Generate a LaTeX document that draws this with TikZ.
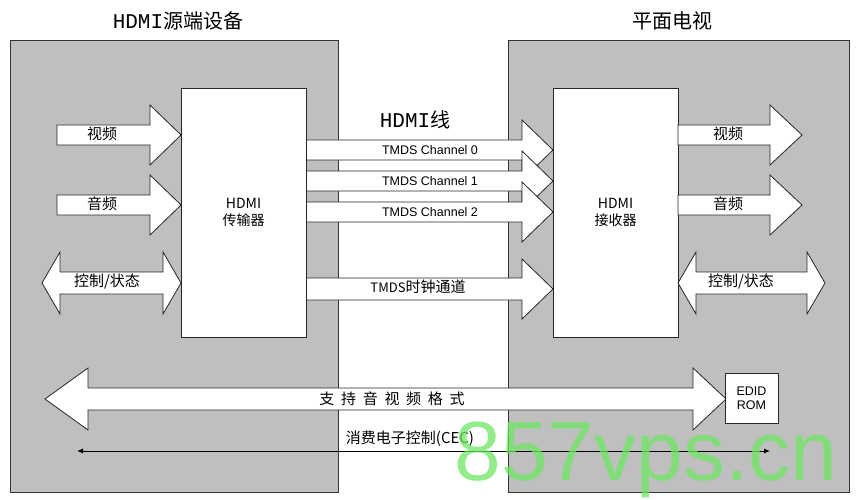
\documentclass[tikz,border=0pt]{standalone}
\usepackage{fontspec}
\usetikzlibrary{arrows.meta}
\setmainfont{Liberation Sans}
\newfontfamily\cjk{Noto Sans CJK SC}
\newfontfamily\titlef{Liberation Mono}
% right arrow: x1 x2(head start) x3(tip) y shafthalf headhalf
\newcommand\fatRight[6]{\draw[arr] (#1,#4-#5) -- (#2,#4-#5) -- (#2,#4-#6) -- (#3,#4) -- (#2,#4+#6) -- (#2,#4+#5) -- (#1,#4+#5) -- cycle;}
% double arrow: xl(tip) xl2 xr2 xr(tip) y shafthalf headhalf
\newcommand\fatBoth[7]{\draw[arr] (#1,#5) -- (#2,#5-#7) -- (#2,#5-#6) -- (#3,#5-#6) -- (#3,#5-#7) -- (#4,#5) -- (#3,#5+#7) -- (#3,#5+#6) -- (#2,#5+#6) -- (#2,#5+#7) -- cycle;}
\definecolor{wmgreen}{RGB}{110,230,100}
\tikzset{
  arr/.style={draw=black!85, fill=white, line width=0.8pt, line join=miter},
  panel/.style={draw=black!80, fill=black!25, line width=0.8pt},
  unit/.style={draw=black!85, fill=white, line width=0.8pt},
  lbl/.style={font=\cjk\fontsize{15}{16}\selectfont},
  tl/.style={font=\fontsize{12.5}{13}\selectfont},
  ttl/.style={font=\cjk\fontsize{20}{22}\selectfont}
}
\begin{document}
\begin{tikzpicture}[x=1pt,y=-1pt]
\useasboundingbox[fill=white] (0,0) rectangle (859,500);
\draw[panel] (10,40) rectangle (338,492);
\draw[panel] (508,40) rectangle (849,492);
\node[ttl] (t1) at (178,21) {{\titlef\fontsize{21}{22}\selectfont HDMI}源端设备};
\node[ttl] (t2) at (672,21) {平面电视};
\node[ttl] (t3) at (415,120) {{\titlef\fontsize{21}{22}\selectfont HDMI}线};
% left inputs
\fatRight{57}{150}{181}{135}{10}{30}
\node[lbl] (v1) at (102,134) {视频};
\fatRight{57}{150}{181}{205}{10}{30}
\node[lbl] (a1) at (102,204) {音频};
\fatBoth{42}{60}{163}{181}{283}{11}{31}
\node[lbl] (c1) at (107,282) {控制/状态};
% tmds
\fatRight{306}{522}{553}{150}{10}{30}
\fatRight{306}{522}{553}{181}{10}{30}
\fatRight{306}{522}{553}{212}{10}{30}
\fatRight{306}{522}{553}{289}{11}{30}
\node[tl] (ch0) at (430,150) {TMDS Channel 0};
\node[tl] (ch1) at (430,181) {TMDS Channel 1};
\node[tl] (ch2) at (430,212) {TMDS Channel 2};
\node[lbl] (clk) at (418,287) {{\fontsize{13}{14}\selectfont TMDS}时钟通道};
% units
\node[unit, minimum width=125pt, minimum height=249pt, align=center, font=\cjk\fontsize{14}{17}\selectfont] (tx) at (243.5,212.5) {HDMI\\传输器};
\node[unit, minimum width=125pt, minimum height=249pt, align=center, font=\cjk\fontsize{14}{17}\selectfont] (rx) at (615.5,212.5) {HDMI\\接收器};
% right outputs
\fatRight{678}{770}{802}{135}{10}{30}
\node[lbl] (v2) at (728,134) {视频};
\fatRight{678}{770}{802}{205}{10}{30}
\node[lbl] (a2) at (728,204) {音频};
\fatBoth{678}{696}{807}{825}{283}{11}{31}
\node[lbl] (c2) at (741,282) {控制/状态};
% bottom
\fatBoth{45}{88}{693}{726}{399}{11}{31}
\node[lbl] (fmt) at (392,399) {支\ \ 持\ \ 音\ \ 视\ \ 频\ \ 格\ \ 式};
\node[unit, minimum width=53pt, minimum height=50pt, align=center, inner sep=0pt, font=\fontsize{12.5}{14}\selectfont] (edid) at (751.5,398) {EDID\\ROM};
\coordinate (cl) at (77,451);
\coordinate (cr) at (770,451);
\draw[line width=0.9pt, {Latex[length=6pt,width=5pt]}-{Latex[length=6pt,width=5pt]}] (cl) -- (cr);
\node[lbl] (cec) at (410,439) {消费电子控制(CEC)};
\node[text=wmgreen, font=\fontsize{84}{84}\selectfont, opacity=0.75, inner sep=0pt] (wm) at (646,460) {857vps.cn};
\end{tikzpicture}
\end{document}
